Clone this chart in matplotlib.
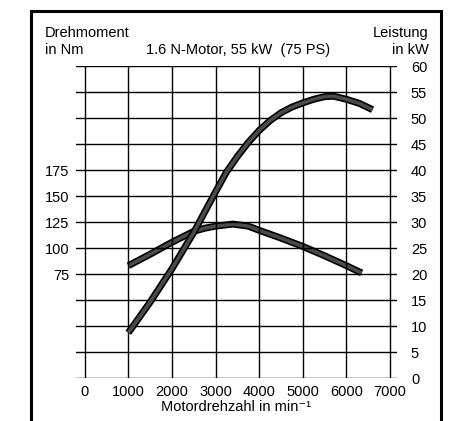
import matplotlib.pyplot as plt
from matplotlib.patches import Rectangle

plt.rcParams['font.family'] = ['Liberation Sans', 'DejaVu Sans']

# Drehmoment (Nm) ueber Drehzahl
rpm_torque = [1000, 1500, 2000, 2500, 2750, 3000, 3400, 3750, 4000, 4500, 5000, 5500, 6000, 6350]
torque_nm = [83, 94, 105.5, 116, 119, 121, 123, 121, 117, 109.5, 101.5, 92.5, 83, 76]

# Leistung (kW) ueber Drehzahl
rpm_power = [1000, 1500, 2000, 2500, 3000, 3250, 3500, 3750, 4000, 4250, 4500, 4750,
             5000, 5250, 5500, 5700, 6000, 6300, 6600]
power_kw = [8.7, 14.6, 21.0, 28.0, 35.8, 39.6, 42.6, 45.3, 47.6, 49.5, 51.0, 52.1,
            52.9, 53.6, 54.1, 54.2, 53.6, 52.8, 51.6]

x_ticks = [0, 1000, 2000, 3000, 4000, 5000, 6000, 7000]
nm_ticks = [75, 100, 125, 150, 175]
kw_ticks = list(range(0, 65, 5))

fig = plt.figure(figsize=(4.71, 4.21), dpi=100)
ax = fig.add_axes([76 / 471, 1 - 378 / 421, 321 / 471, 312 / 421])
ax2 = ax.twinx()

ax.set_xlim(-200, 7160)
ax.set_ylim(-25, 275)
ax2.set_ylim(0, 60)

# grid
for k in kw_ticks:
    ax2.axhline(k, color='black', lw=1.0, zorder=1)
for x in x_ticks:
    ax2.axvline(x, color='black', lw=1.0, zorder=1)


def thick(a, x, y):
    a.plot(x, y, color='black', lw=5.0, solid_capstyle='butt',
           solid_joinstyle='round', zorder=3)
    a.plot(x, y, color='#4a4a4a', lw=2.6, solid_capstyle='butt',
           solid_joinstyle='round', zorder=4)


thick(ax, rpm_torque, torque_nm)
thick(ax2, rpm_power, power_kw)

for a in (ax, ax2):
    for s in a.spines.values():
        s.set_visible(False)
    a.tick_params(length=0, labelsize=10.5)

ax.set_xticks(x_ticks)
ax.tick_params(axis='x', pad=5)
ax.tick_params(axis='y', pad=5)
ax.set_yticks(nm_ticks)
ax2.set_yticks(kw_ticks)
ax2.tick_params(axis='y', pad=10)

ax.set_xlabel('Motordrehzahl in min\u207b\u00b9', fontsize=10.5, labelpad=1)

fig.text(45 / 471, 1 - 33 / 421, 'Drehmoment', fontsize=10.5, va='center', ha='left')
fig.text(45 / 471, 1 - 50 / 421, 'in Nm', fontsize=10.5, va='center', ha='left')
fig.text(238 / 471, 1 - 50 / 421, '1.6 N-Motor, 55 kW  (75 PS)', fontsize=10.5,
         va='center', ha='center')
fig.text(429 / 471, 1 - 33 / 421, 'Leistung', fontsize=10.5, va='center', ha='right')
fig.text(429 / 471, 1 - 50 / 421, 'in kW', fontsize=10.5, va='center', ha='right')

# outer frame
fig.add_artist(Rectangle((31 / 471, -0.1), 410 / 471, 1.1 - 11 / 421,
                         transform=fig.transFigure, fill=False,
                         lw=2.2, edgecolor='black'))

fig.savefig('out.png', dpi=100)
